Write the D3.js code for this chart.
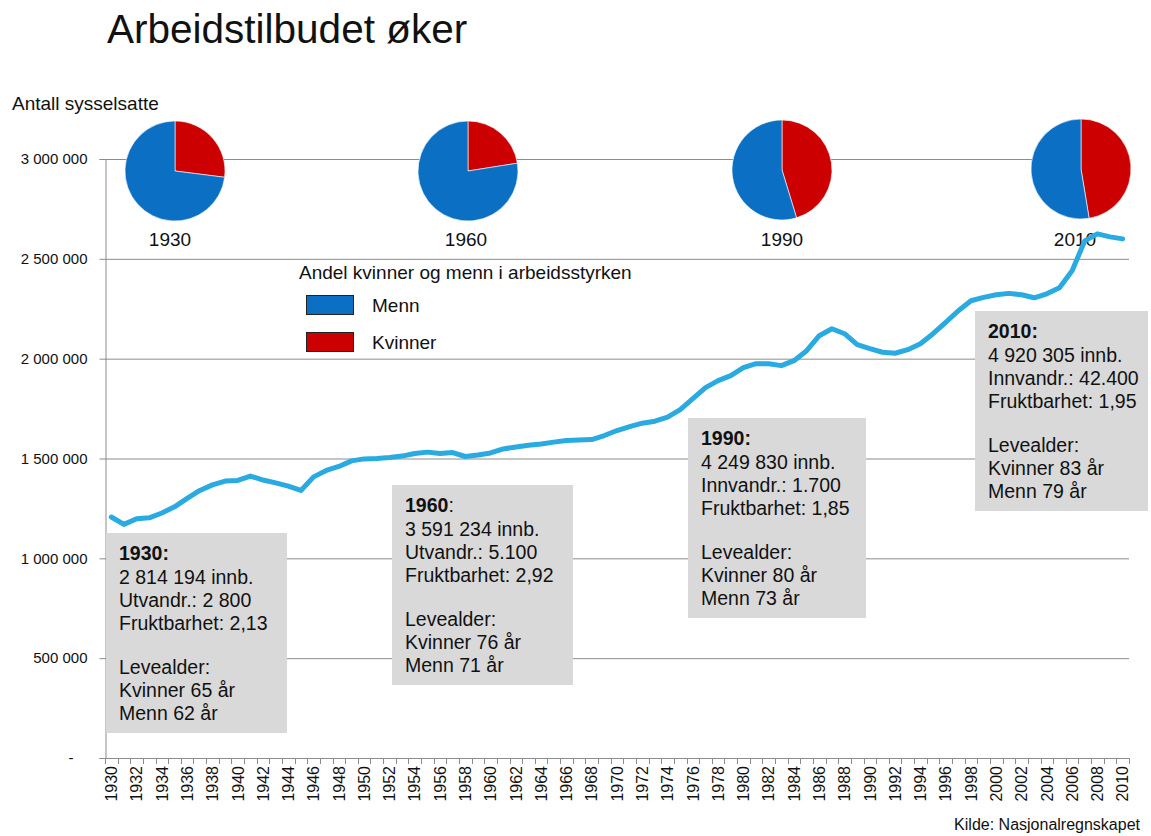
<!DOCTYPE html>
<html>
<head>
<meta charset="utf-8">
<script src="https://cdn.jsdelivr.net/npm/d3@7"></script>
<style>
  html, body { margin: 0; padding: 0; background: #fff; }
  svg { display: block; font-family: "Liberation Sans", Arial, sans-serif; }
</style>
</head>
<body>
<svg id="chart" width="1151" height="836"></svg>
<script>
// ---------- DATA ----------
const years = d3.range(1930, 2011);
const employed = [
  1207000, 1170000, 1198000, 1203000, 1227000, 1258000, 1300000, 1340000, 1368000, 1387000,
  1390000, 1412000, 1392000, 1378000, 1362000, 1340000, 1408000, 1440000, 1460000, 1488000,
  1498000, 1500000, 1505000, 1512000, 1525000, 1532000, 1525000, 1530000, 1510000, 1518000,
  1528000, 1548000, 1558000, 1566000, 1573000, 1582000, 1590000, 1593000, 1595000, 1615000,
  1640000, 1660000, 1677000, 1687000, 1707000, 1745000, 1800000, 1855000, 1890000, 1915000,
  1955000, 1975000, 1975000, 1965000, 1990000, 2040000, 2115000, 2150000, 2125000, 2070000,
  2050000, 2032000, 2027000, 2045000, 2075000, 2125000, 2182000, 2240000, 2290000, 2307000,
  2320000, 2327000, 2320000, 2305000, 2325000, 2355000, 2440000, 2590000, 2625000, 2610000,
  2600000
];
const yTicks = [0, 500000, 1000000, 1500000, 2000000, 2500000, 3000000];
const xTickLabels = years.filter((d, i) => i % 2 === 0);

const pieYears = ["1930", "1960", "1990", "2010"];
const kvinnerShare = [27, 22.5, 45.3, 47.4];
const mennShare = [73, 77.5, 54.7, 52.6];
const legendLabels = ["Menn", "Kvinner"];

const boxTitles = ["1930", "1960", "1990", "2010"];
const boxLines = [
  ["2 814 194 innb.", "Utvandr.: 2 800", "Fruktbarhet: 2,13", "", "Levealder:", "Kvinner 65 år", "Menn 62 år"],
  ["3 591 234 innb.", "Utvandr.: 5.100", "Fruktbarhet: 2,92", "", "Levealder:", "Kvinner 76 år", "Menn 71 år"],
  ["4 249 830 innb.", "Innvandr.: 1.700", "Fruktbarhet: 1,85", "", "Levealder:", "Kvinner 80 år", "Menn 73 år"],
  ["4 920 305 innb.", "Innvandr.: 42.400", "Fruktbarhet: 1,95", "", "Levealder:", "Kvinner 83 år", "Menn 79 år"]
];

// ---------- LAYOUT ----------
const svg = d3.select("#chart");
const plot = { left: 105, right: 1129, top: 159, bottom: 758 };
const BLUE = "#0b6fc4", RED = "#cc0000", LINE = "#29aae1", GRID = "#8c8c8c";

const x = d3.scaleBand().domain(years).range([plot.left, plot.right]).padding(0);
const y = d3.scaleLinear().domain([0, 3000000]).range([plot.bottom, plot.top]);

const nb = d3.formatLocale({ decimal: ",", thousands: " ", grouping: [3], currency: ["", ""] });
const fmt = nb.format(",d");

// Title
svg.append("text").attr("x", 107).attr("y", 43)
  .attr("font-size", 40.5).attr("fill", "#111").text("Arbeidstilbudet øker");

// Y axis title
svg.append("text").attr("x", 12).attr("y", 110)
  .attr("font-size", 19).attr("fill", "#111").text("Antall sysselsatte");

// Gridlines
svg.append("g").selectAll("line").data(yTicks.filter(d => d > 0)).join("line")
  .attr("x1", plot.left).attr("x2", plot.right)
  .attr("y1", d => y(d) + 0.5).attr("y2", d => y(d) + 0.5)
  .attr("stroke", GRID).attr("stroke-width", 1);

// Y axis
const yAxis = svg.append("g").attr("transform", `translate(${plot.left + 0.5},0)`)
  .call(d3.axisLeft(y).tickValues(yTicks).tickSize(6).tickPadding(12)
    .tickFormat(d => d === 0 ? "-" : fmt(d)));
yAxis.select(".domain").attr("stroke", GRID);
yAxis.selectAll(".tick line").attr("stroke", GRID);
yAxis.selectAll(".tick text").attr("font-size", 15).attr("fill", "#111")
  .attr("font-family", "'Liberation Sans', Arial, sans-serif");
yAxis.selectAll(".tick text").filter(d => d === 0).attr("dx", -14);

// X axis line + boundary ticks
const xg = svg.append("g");
xg.append("line").attr("x1", plot.left).attr("x2", plot.right)
  .attr("y1", plot.bottom + 0.5).attr("y2", plot.bottom + 0.5).attr("stroke", GRID);
const bounds = years.map(d => x(d)).concat([x.range()[1]]);
xg.selectAll("line.tk").data(bounds).join("line").attr("class", "tk")
  .attr("x1", d => Math.round(d) + 0.5).attr("x2", d => Math.round(d) + 0.5)
  .attr("y1", plot.bottom).attr("y2", plot.bottom + 6).attr("stroke", GRID);

const xAxis = svg.append("g").attr("transform", `translate(0,${plot.bottom})`)
  .call(d3.axisBottom(x).tickValues(xTickLabels).tickSize(0));
xAxis.select(".domain").remove();
xAxis.selectAll(".tick text")
  .attr("transform", "rotate(-90)")
  .attr("x", -8).attr("y", 0).attr("dy", "0.36em")
  .attr("text-anchor", "end")
  .attr("font-size", 16).attr("fill", "#111")
  .attr("font-family", "'Liberation Sans', Arial, sans-serif");

// Info boxes
const boxPos = [
  { x: 106, y: 533, w: 181, h: 200 },
  { x: 392, y: 485, w: 181, h: 200 },
  { x: 688, y: 418, w: 178, h: 200 },
  { x: 975, y: 311, w: 173, h: 200 }
];
const lineOffsets = [51, 74, 97, 0, 141, 164, 187];
boxPos.forEach((b, i) => {
  const g = svg.append("g");
  g.append("rect").attr("x", b.x).attr("y", b.y).attr("width", b.w).attr("height", b.h)
    .attr("fill", "#d9d9d9");
  const t = g.append("text").attr("x", b.x + 13).attr("y", b.y + 27)
    .attr("font-size", 19.5).attr("fill", "#111");
  t.append("tspan").attr("font-weight", "bold").text(boxTitles[i]);
  t.append("tspan").attr("font-weight", i === 1 ? "normal" : "bold").text(":");
  boxLines[i].forEach((ln, j) => {
    if (!ln) return;
    g.append("text").attr("x", b.x + 13).attr("y", b.y + lineOffsets[j])
      .attr("font-size", 19.5).attr("fill", "#111").text(ln);
  });
});

// Pies
const pieCenters = [
  { cx: 175, cy: 171, lx: 170 },
  { cx: 468, cy: 171, lx: 466 },
  { cx: 782, cy: 170, lx: 782 },
  { cx: 1081, cy: 169, lx: 1075 }
];
const pie = d3.pie().sort(null).value(d => d.v);
const arc = d3.arc().innerRadius(0).outerRadius(50);
pieYears.forEach((yr, i) => {
  const c = pieCenters[i];
  const g = svg.append("g").attr("transform", `translate(${c.cx},${c.cy})`);
  const d = [{ k: "Kvinner", v: kvinnerShare[i] }, { k: "Menn", v: mennShare[i] }];
  g.selectAll("path").data(pie(d)).join("path")
    .attr("d", arc)
    .attr("fill", p => p.data.k === "Kvinner" ? RED : BLUE)
    .attr("stroke", "#fff").attr("stroke-width", 0.6);
  svg.append("text").attr("x", c.lx).attr("y", 246).attr("text-anchor", "middle")
    .attr("font-size", 19).attr("fill", "#111").text(yr);
});

// Legend
svg.append("text").attr("x", 299).attr("y", 279).attr("font-size", 19).attr("fill", "#111")
  .text("Andel kvinner og menn i arbeidsstyrken");
const legColors = [BLUE, RED];
legendLabels.forEach((lab, i) => {
  const yy = 295 + i * 37;
  svg.append("rect").attr("x", 306.5).attr("y", yy + 0.5).attr("width", 47).attr("height", 19)
    .attr("fill", legColors[i]).attr("stroke", "#222").attr("stroke-width", 1);
  svg.append("text").attr("x", 372).attr("y", yy + 17).attr("font-size", 19).attr("fill", "#111")
    .text(lab);
});

// Line
const line = d3.line()
  .x((d, i) => x(years[i]) + x.bandwidth() / 2)
  .y(d => y(d));
svg.append("path").datum(employed)
  .attr("d", line)
  .attr("fill", "none")
  .attr("stroke", LINE).attr("stroke-width", 5)
  .attr("stroke-linejoin", "round").attr("stroke-linecap", "round");

// Source
svg.append("text").attr("x", 1140).attr("y", 830).attr("text-anchor", "end")
  .attr("font-size", 16).attr("fill", "#111").text("Kilde: Nasjonalregnskapet");
</script>
</body>
</html>
